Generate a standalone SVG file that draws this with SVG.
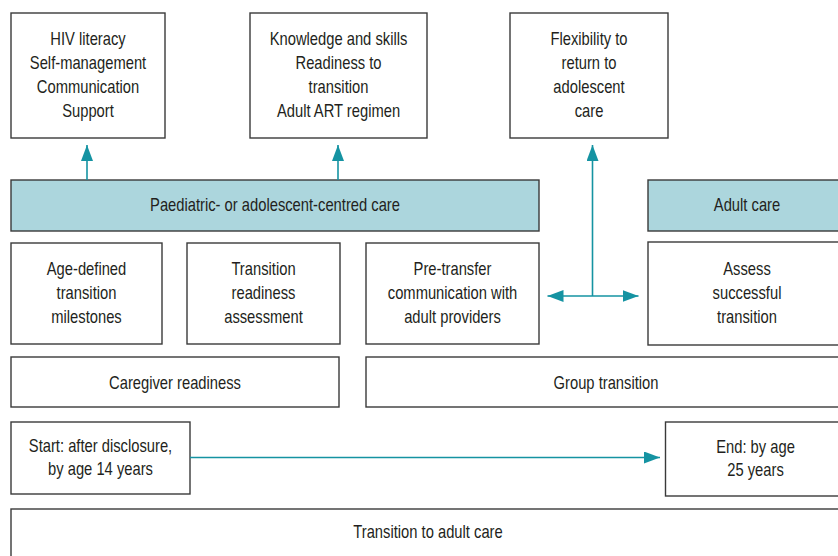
<svg xmlns="http://www.w3.org/2000/svg" width="838" height="556" viewBox="0 0 838 556">
<style>
.box{fill:#ffffff;stroke:#3a3a3a;stroke-width:1.4}
.bar{fill:#acd6dd;stroke:#3a3a3a;stroke-width:1.4}
text{font-family:"Liberation Sans",Arial,sans-serif;font-size:18px;fill:#231f20;text-anchor:middle}
.conn{stroke:#1593a2;stroke-width:1.6;fill:none}
</style>
<defs>
<marker id="ah" markerUnits="userSpaceOnUse" markerWidth="17" markerHeight="13" refX="16" refY="6" orient="auto-start-reverse">
<path d="M0,0 L16,6 L0,12 Z" fill="#1593a2"/>
</marker>
</defs>
<rect width="838" height="556" fill="#ffffff"/>

<g id="n-hiv-literacy">
<rect class="box" x="11" y="13" width="154" height="125"/>
<g transform="translate(88 0) scale(0.82 1)">
<text x="0" y="45">HIV literacy</text>
<text x="0" y="69">Self-management</text>
<text x="0" y="93">Communication</text>
<text x="0" y="117">Support</text>
</g>
</g>
<g id="n-knowledge">
<rect class="box" x="250" y="13" width="177" height="125"/>
<g transform="translate(338.5 0) scale(0.82 1)">
<text x="0" y="45">Knowledge and skills</text>
<text x="0" y="69">Readiness to</text>
<text x="0" y="93">transition</text>
<text x="0" y="117">Adult ART regimen</text>
</g>
</g>
<g id="n-flexibility">
<rect class="box" x="510" y="13" width="158" height="125"/>
<g transform="translate(589 0) scale(0.82 1)">
<text x="0" y="45">Flexibility to</text>
<text x="0" y="69">return to</text>
<text x="0" y="93">adolescent</text>
<text x="0" y="117">care</text>
</g>
</g>

<g id="n-paediatric">
<rect class="bar" x="11" y="180" width="528" height="51"/>
<g transform="translate(275 0) scale(0.82 1)">
<text x="0" y="211">Paediatric- or adolescent-centred care</text>
</g>
</g>
<g id="n-adult-care">
<rect class="bar" x="648" y="180" width="198" height="51"/>
<g transform="translate(747 0) scale(0.82 1)">
<text x="0" y="211">Adult care</text>
</g>
</g>

<g id="n-age-defined">
<rect class="box" x="11" y="243" width="151" height="101"/>
<g transform="translate(86.5 0) scale(0.82 1)">
<text x="0" y="275">Age-defined</text>
<text x="0" y="299">transition</text>
<text x="0" y="323">milestones</text>
</g>
</g>
<g id="n-readiness-assessment">
<rect class="box" x="187" y="243" width="153" height="101"/>
<g transform="translate(263.5 0) scale(0.82 1)">
<text x="0" y="275">Transition</text>
<text x="0" y="299">readiness</text>
<text x="0" y="323">assessment</text>
</g>
</g>
<g id="n-pre-transfer">
<rect class="box" x="366" y="243" width="173" height="101"/>
<g transform="translate(452.5 0) scale(0.82 1)">
<text x="0" y="275">Pre-transfer</text>
<text x="0" y="299">communication with</text>
<text x="0" y="323">adult providers</text>
</g>
</g>
<g id="n-assess">
<rect class="box" x="648" y="242" width="198" height="103"/>
<g transform="translate(747 0) scale(0.82 1)">
<text x="0" y="275">Assess</text>
<text x="0" y="299">successful</text>
<text x="0" y="323">transition</text>
</g>
</g>

<g id="n-caregiver">
<rect class="box" x="11" y="357" width="328" height="50"/>
<g transform="translate(175 0) scale(0.82 1)">
<text x="0" y="389">Caregiver readiness</text>
</g>
</g>
<g id="n-group">
<rect class="box" x="366" y="357" width="480" height="50"/>
<g transform="translate(606 0) scale(0.82 1)">
<text x="0" y="389">Group transition</text>
</g>
</g>

<g id="n-start">
<rect class="box" x="11" y="422" width="179" height="72"/>
<g transform="translate(100.5 0) scale(0.82 1)">
<text x="0" y="452">Start: after disclosure,</text>
<text x="0" y="475">by age 14 years</text>
</g>
</g>
<g id="n-end">
<rect class="box" x="665.5" y="422" width="180" height="74"/>
<g transform="translate(755.5 0) scale(0.82 1)">
<text x="0" y="453">End: by age</text>
<text x="0" y="476">25 years</text>
</g>
</g>

<g id="n-transition">
<rect class="box" x="11" y="509" width="835" height="60"/>
<g transform="translate(428 0) scale(0.82 1)">
<text x="0" y="538">Transition to adult care</text>
</g>
</g>

<g id="connectors">
<line class="conn" x1="87" y1="180" x2="87" y2="145" marker-end="url(#ah)"/>
<line class="conn" x1="338" y1="180" x2="338" y2="145" marker-end="url(#ah)"/>
<line class="conn" x1="592.5" y1="296" x2="592.5" y2="145" marker-end="url(#ah)"/>
<line class="conn" x1="547.5" y1="296" x2="638.5" y2="296" marker-start="url(#ah)" marker-end="url(#ah)"/>
<line class="conn" x1="190" y1="457.5" x2="660" y2="457.5" marker-end="url(#ah)"/>
</g>
</svg>
